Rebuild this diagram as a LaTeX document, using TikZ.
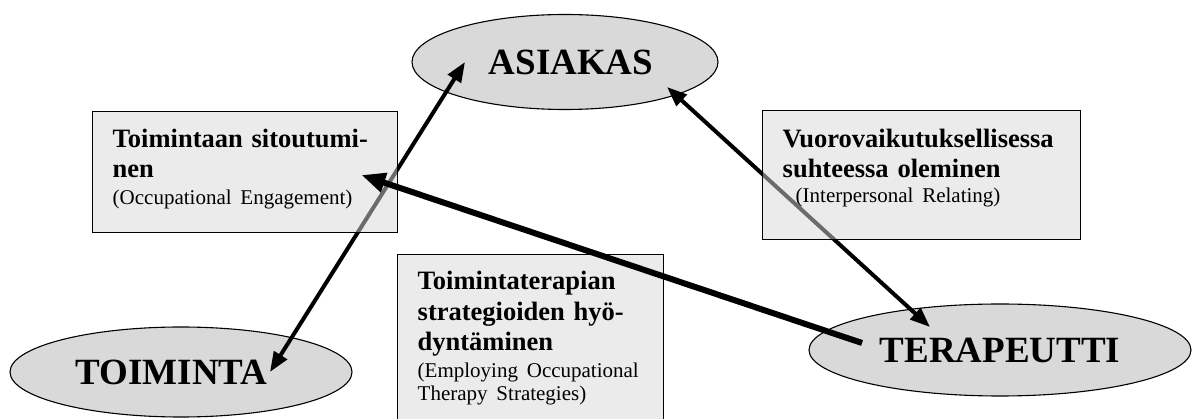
\documentclass[tikz,border=0pt]{standalone}
\usepackage{fontspec}
\setmainfont{Liberation Serif}
\definecolor{otOval}{RGB}{217,217,217}
\definecolor{otBox} {RGB}{215,215,215}
\definecolor{otInk} {RGB}{ 0,  0,  0}
\newcommand{\engl}{\fontsize{21}{30}\selectfont\mdseries}
\lineskiplimit=-20pt
\usetikzlibrary{
  arrows.meta,
  shapes.geometric,
  calc,
}

\begin{document}
\begin{tikzpicture}[
  x=1pt, y=-1pt,
  osa/.style={ellipse, draw=otInk, line width=1.1pt, fill=otOval,
              inner sep=0pt, text=otInk,
              font=\fontsize{37}{40}\selectfont\bfseries},
  alue/.style={draw=otInk, line width=1.4pt, fill=otBox,
               fill opacity=0.5, text opacity=1,
               anchor=north west, align=left,
               inner xsep=20pt, inner ysep=0pt,
               font=\fontsize{26.5}{30}\selectfont\bfseries},
  suhde/.style={{Triangle[length=20pt,width=15pt]}-{Triangle[length=20pt,width=15pt]},
                line width=4pt, color=otInk},
  vaikutus/.style={-{Triangle[length=24pt,width=19pt]}, line width=6pt, color=otInk},
]
  \useasboundingbox (0,0) rectangle (1192,419);
  \clip (0,0) rectangle (1192,419);

  % the three parties
  \node[osa, minimum width=306pt, minimum height=95pt] (asiakas)    at ( 565, 62) {\kern12pt ASIAKAS};
  \node[osa, minimum width=342pt, minimum height=90pt] (toiminta)   at ( 181,372) {TOIMINTA\kern19pt};
  \node[osa, minimum width=382pt, minimum height=92pt] (terapeutti) at (1000,350) {TERAPEUTTI};

  % two-way relations
  \draw[suhde] ([xshift=89pt]toiminta.center) -- ([xshift=-100pt]asiakas.center);
  \draw[suhde] ([shift={(102,25)}]asiakas.center) -- ([shift={(-70,-23)}]terapeutti.center);

  % descriptions
  \node[alue, text width=265pt, text height=36pt, text depth=85pt] (sitout) at (92,111)
    {Toimintaan sitoutumi-\\nen\\[-3pt]\engl (Occupational Engagement)};
  \node[alue, text width=278pt, text height=37pt, text depth=92pt] (vuoro) at (762,110)
    {Vuorovaikutuksellisessa\\suhteessa oleminen\\[-5pt]\engl\hspace*{13pt}(Interpersonal Relating)};
  \node[alue, text width=226pt, text height=35pt, text depth=150pt] (strat) at (397,254)
    {Toimintaterapian\\[1pt]strategioiden hyö-\\dyntäminen\\[-3pt]\engl (Employing Occupational\\[-7pt]Therapy Strategies)};

  \draw[vaikutus] ([shift={(-138,-7)}]terapeutti.center) -- ([shift={(-37,64)}]sitout.north east);
\end{tikzpicture}
\end{document}
